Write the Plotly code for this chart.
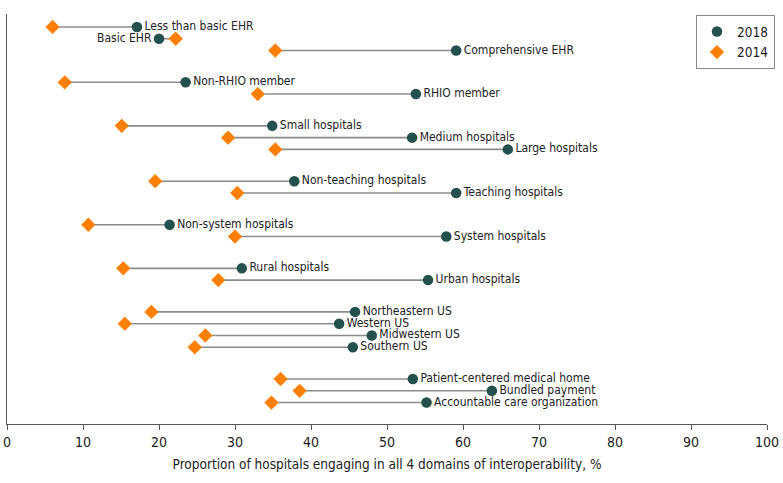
import plotly.graph_objects as go

categories = [
    "Less than basic EHR", "Basic EHR", "Comprehensive EHR",
    "Non-RHIO member", "RHIO member",
    "Small hospitals", "Medium hospitals", "Large hospitals",
    "Non-teaching hospitals", "Teaching hospitals",
    "Non-system hospitals", "System hospitals",
    "Rural hospitals", "Urban hospitals",
    "Northeastern US", "Western US", "Midwestern US", "Southern US",
    "Patient-centered medical home", "Bundled payment", "Accountable care organization",
]
groups = [0, 0, 0, 1, 1, 2, 2, 2, 3, 3, 4, 4, 5, 5, 6, 6, 6, 6, 7, 7, 7]
values_2018 = [17.1, 20.0, 59.1, 23.5, 53.8, 34.9, 53.3, 65.9, 37.8, 59.1,
               21.4, 57.8, 30.9, 55.4, 45.8, 43.7, 48.0, 45.5, 53.4, 63.8, 55.2]
values_2014 = [6.0, 22.2, 35.3, 7.6, 33.0, 15.1, 29.1, 35.3, 19.5, 30.3,
               10.7, 30.0, 15.3, 27.8, 19.0, 15.5, 26.1, 24.7, 36.0, 38.5, 34.8]
x_ticks = [0, 10, 20, 30, 40, 50, 60, 70, 80, 90, 100]

GROUP_GAP = 1.7
ypos = [i + g * GROUP_GAP for i, g in enumerate(groups)]

FONT = "DejaVu Sans Condensed, Roboto Condensed, Roboto, sans-serif"
TEAL = "#24504e"
ORANGE = "#ff7f00"

lx, ly = [], []
for a, b, y in zip(values_2014, values_2018, ypos):
    lx += [a, b, None]
    ly += [y, y, None]

fig = go.Figure()
fig.add_trace(go.Scatter(x=lx, y=ly, mode="lines", line=dict(color="#8c8c8c", width=1.6),
                         showlegend=False, hoverinfo="skip"))
fig.add_trace(go.Scatter(x=values_2014, y=ypos, mode="markers", name="2014",
                         marker=dict(symbol="diamond", color=ORANGE, size=11),
                         legendrank=2, cliponaxis=False))
positions = ["middle left" if c == "Basic EHR" else "middle right" for c in categories]
fig.add_trace(go.Scatter(x=values_2018, y=ypos, mode="markers+text", name="2018",
                         text=categories, textposition=positions,
                         textfont=dict(family=FONT, size=12, color="#222"),
                         marker=dict(symbol="circle", color=TEAL, size=10.5),
                         legendrank=1, cliponaxis=False))

fig.update_layout(
    width=783, height=483,
    margin=dict(l=7, r=16, t=14, b=59),
    plot_bgcolor="white", paper_bgcolor="white",
    font=dict(family=FONT, size=13, color="#222"),
    legend=dict(x=1.0105, y=0.997, xanchor="right", yanchor="top",
                bordercolor="#888", borderwidth=1, bgcolor="white",
                font=dict(family=FONT, size=13.5), itemwidth=30,
                tracegroupgap=0),
    xaxis=dict(range=[0, 100], tickvals=x_ticks, showgrid=False, zeroline=False,
               showline=True, linecolor="#555", linewidth=1, ticks="outside",
               ticklen=5, tickcolor="#555", tickfont=dict(size=14, color="#222"),
               automargin=False,
               title=dict(text="Proportion of hospitals engaging in all 4 domains of interoperability, %",
                          font=dict(size=13.5), standoff=10)),
    yaxis=dict(range=[ypos[-1] + 1.82, -1.10], showgrid=False, zeroline=False,
               showline=True, linecolor="#555", linewidth=1, showticklabels=False,
               ticks="", automargin=False),
)
fig.write_html("out.html", config={"displayModeBar": False},
               post_script="document.body.style.margin='0';document.body.style.overflow='hidden';")
